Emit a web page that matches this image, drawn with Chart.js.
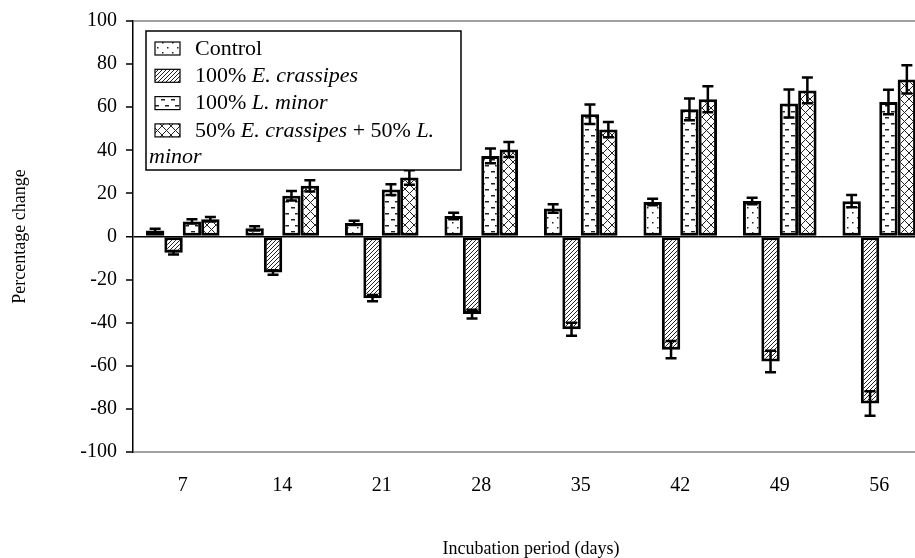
<!DOCTYPE html>
<html>
<head>
<meta charset="utf-8">
<script src="https://cdn.jsdelivr.net/npm/chart.js@4.4.0/dist/chart.umd.min.js"></script>
<style>
html,body{margin:0;padding:0;overflow:hidden;background:#fff;width:915px;height:558px}
#wrap{position:absolute;left:0;top:0;width:935px;height:558px}
</style>
</head>
<body>
<div id="wrap"><canvas id="c" width="935" height="558"></canvas></div>
<script>
// ---- data ----
const categories = ['7', '14', '21', '28', '35', '42', '49', '56'];
const seriesNames = ['Control', '100% E. crassipes', '100% L. minor', '50% E. crassipes + 50% L. minor'];
const control        = [2.8, 3.8, 6.3, 9.5, 13.0, 16.0, 16.5, 16.4];
const controlErr     = [0.8, 1.0, 1.0, 1.5, 2.0, 1.5, 1.5, 2.8];
const eCrassipes     = [-7.5, -16.7, -28.6, -36.0, -43.0, -52.5, -58.0, -77.5];
const eCrassipesErr  = [0.8, 1.0, 1.5, 2.0, 3.0, 4.0, 5.0, 5.7];
const lMinor         = [7.0, 18.9, 21.8, 37.4, 56.7, 59.0, 61.7, 62.4];
const lMinorErr      = [1.0, 2.2, 2.5, 3.4, 4.5, 5.0, 6.5, 5.7];
const mix            = [8.0, 23.5, 27.4, 40.4, 49.6, 63.7, 67.8, 72.9];
const mixErr         = [1.0, 2.6, 3.4, 3.5, 3.5, 6.0, 6.0, 6.6];
const yTicks = [-100, -80, -60, -40, -20, 0, 20, 40, 60, 80, 100];
const xTitle = 'Incubation period (days)';
const yTitle = 'Percentage change';
// legend text runs (italic parts marked)
const legendRuns = [
  [['Control', false]],
  [['100% ', false], ['E. crassipes', true]],
  [['100% ', false], ['L. minor', true]],
  [['50% ', false], ['E. crassipes', true], [' + 50% ', false], ['L.', true]]
];
const legendWrap = [['minor', true]];

const FONT = '"Liberation Serif", "Times New Roman", serif';

// ---- patterns ----
function makePattern(type) {
  const c = document.createElement('canvas');
  let w = 8, h = 8;
  if (type === 'dots') { w = 10; h = 10; }
  if (type === 'diag') { w = 4; h = 4; }
  if (type === 'dash') { w = 10; h = 12; }
  if (type === 'cross') { w = 9; h = 9; }
  c.width = w; c.height = h;
  const g = c.getContext('2d');
  g.fillStyle = '#fff'; g.fillRect(0, 0, w, h);
  g.fillStyle = '#222'; g.strokeStyle = '#222';
  if (type === 'dots') {
    g.fillRect(2, 2, 1.5, 1.5);
    g.fillRect(7, 7, 1.5, 1.5);
  } else if (type === 'diag') {
    g.lineWidth = 1;
    g.beginPath();
    g.moveTo(-1, h + 1); g.lineTo(w + 1, -1);
    g.moveTo(-1, 1); g.lineTo(1, -1);
    g.moveTo(w - 1, h + 1); g.lineTo(w + 1, h - 1);
    g.stroke();
  } else if (type === 'dash') {
    g.fillRect(1, 3, 4, 1.5);
    g.fillRect(5, 9, 4, 1.5);
  } else if (type === 'cross') {
    g.lineWidth = 1;
    g.beginPath();
    g.moveTo(0, 0); g.lineTo(w, h);
    g.moveTo(0, h); g.lineTo(w, 0);
    g.stroke();
  }
  return g.createPattern(c, 'repeat');
}
const patterns = [makePattern('dots'), makePattern('diag'), makePattern('dash'), makePattern('cross')];

// ---- plugins ----
const errorBars = {
  id: 'errorBars',
  afterDatasetsDraw(chart) {
    const ctx = chart.ctx, y = chart.scales.y;
    chart.data.datasets.forEach((ds, i) => {
      const meta = chart.getDatasetMeta(i);
      meta.data.forEach((bar, j) => {
        const v = ds.data[j], e = ds.errors[j];
        const yt = y.getPixelForValue(v + e), yb = y.getPixelForValue(v - e);
        const cw = 5.5;
        ctx.save();
        ctx.strokeStyle = '#000';
        ctx.lineWidth = 2.5;
        ctx.beginPath();
        ctx.moveTo(bar.x, yt); ctx.lineTo(bar.x, yb);
        ctx.moveTo(bar.x - cw, yt); ctx.lineTo(bar.x + cw, yt);
        ctx.moveTo(bar.x - cw, yb); ctx.lineTo(bar.x + cw, yb);
        ctx.stroke();
        ctx.restore();
      });
    });
  }
};

function drawRuns(ctx, x, y, runs, size) {
  runs.forEach(([t, it]) => {
    ctx.font = (it ? 'italic ' : '') + size + 'px ' + FONT;
    ctx.fillText(t, x, y);
    x += ctx.measureText(t).width;
  });
}

const customLegend = {
  id: 'customLegend',
  afterDraw(chart) {
    const ctx = chart.ctx, a = chart.chartArea;
    const bx = a.left + 13, by = a.top + 10, bw = 315, bh = 139;
    ctx.save();
    ctx.fillStyle = '#fff';
    ctx.fillRect(bx, by, bw, bh);
    ctx.strokeStyle = '#000';
    ctx.lineWidth = 1.5;
    ctx.strokeRect(bx, by, bw, bh);
    ctx.textBaseline = 'middle';
    ctx.textAlign = 'left';
    const rowH = 27.3;
    legendRuns.forEach((runs, i) => {
      const cy = by + 18 + i * rowH;
      ctx.fillStyle = patterns[i];
      ctx.fillRect(bx + 9, cy - 7, 25, 13);
      ctx.strokeStyle = '#000';
      ctx.lineWidth = 1.2;
      ctx.strokeRect(bx + 9, cy - 7, 25, 13);
      ctx.fillStyle = '#000';
      drawRuns(ctx, bx + 49, cy, runs, 22);
    });
    ctx.fillStyle = '#000';
    drawRuns(ctx, bx + 3, by + 18 + 4 * rowH - 1, legendWrap, 22);
    ctx.restore();
  }
};

// ---- chart ----
const valueSets = [control, eCrassipes, lMinor, mix];
const errorSets = [controlErr, eCrassipesErr, lMinorErr, mixErr];

new Chart(document.getElementById('c'), {
  type: 'bar',
  data: {
    labels: categories,
    datasets: seriesNames.map((name, i) => ({
      label: name,
      data: valueSets[i],
      errors: errorSets[i],
      backgroundColor: patterns[i],
      borderColor: '#000',
      borderWidth: 3,
      borderSkipped: false
    }))
  },
  options: {
    responsive: false,
    animation: false,
    devicePixelRatio: 1,
    layout: { padding: { top: 20, right: 6, left: 0, bottom: 0 } },
    datasets: { bar: { categoryPercentage: 0.74, barPercentage: 1.0 } },
    plugins: { legend: { display: false }, tooltip: { enabled: false } },
    scales: {
      x: {
        grid: { display: false, drawTicks: false },
        border: { display: false },
        ticks: { color: '#000', font: { family: FONT, size: 20 }, padding: 22, maxRotation: 0 },
        title: { display: true, text: xTitle, color: '#000', font: { family: FONT, size: 18, lineHeight: 1 }, padding: { top: 0, bottom: 0 } },
        afterFit(s) { s.height = 106; }
      },
      y: {
        min: -100, max: 100,
        afterBuildTicks(s) { s.ticks = yTicks.map(v => ({ value: v })); },
        ticks: { color: '#000', font: { family: FONT, size: 20 }, padding: 9 },
        grid: {
          color: c => c.tick && c.tick.value === 0 ? '#000' : (c.tick && Math.abs(c.tick.value) === 100 ? '#a0a0a0' : 'rgba(0,0,0,0)'),
          lineWidth: c => c.tick && c.tick.value === 0 ? 1.5 : 2,
          tickColor: '#000',
          tickLength: 7,
          tickWidth: 1.5
        },
        border: { display: true, color: '#000', width: 1.5 },
        title: { display: true, text: yTitle, color: '#000', font: { family: FONT, size: 18, lineHeight: 1 }, padding: { top: 11, bottom: 0 } },
        afterFit(s) { s.width = 133; }
      }
    }
  },
  plugins: [errorBars, customLegend]
});
</script>
</body>
</html>
